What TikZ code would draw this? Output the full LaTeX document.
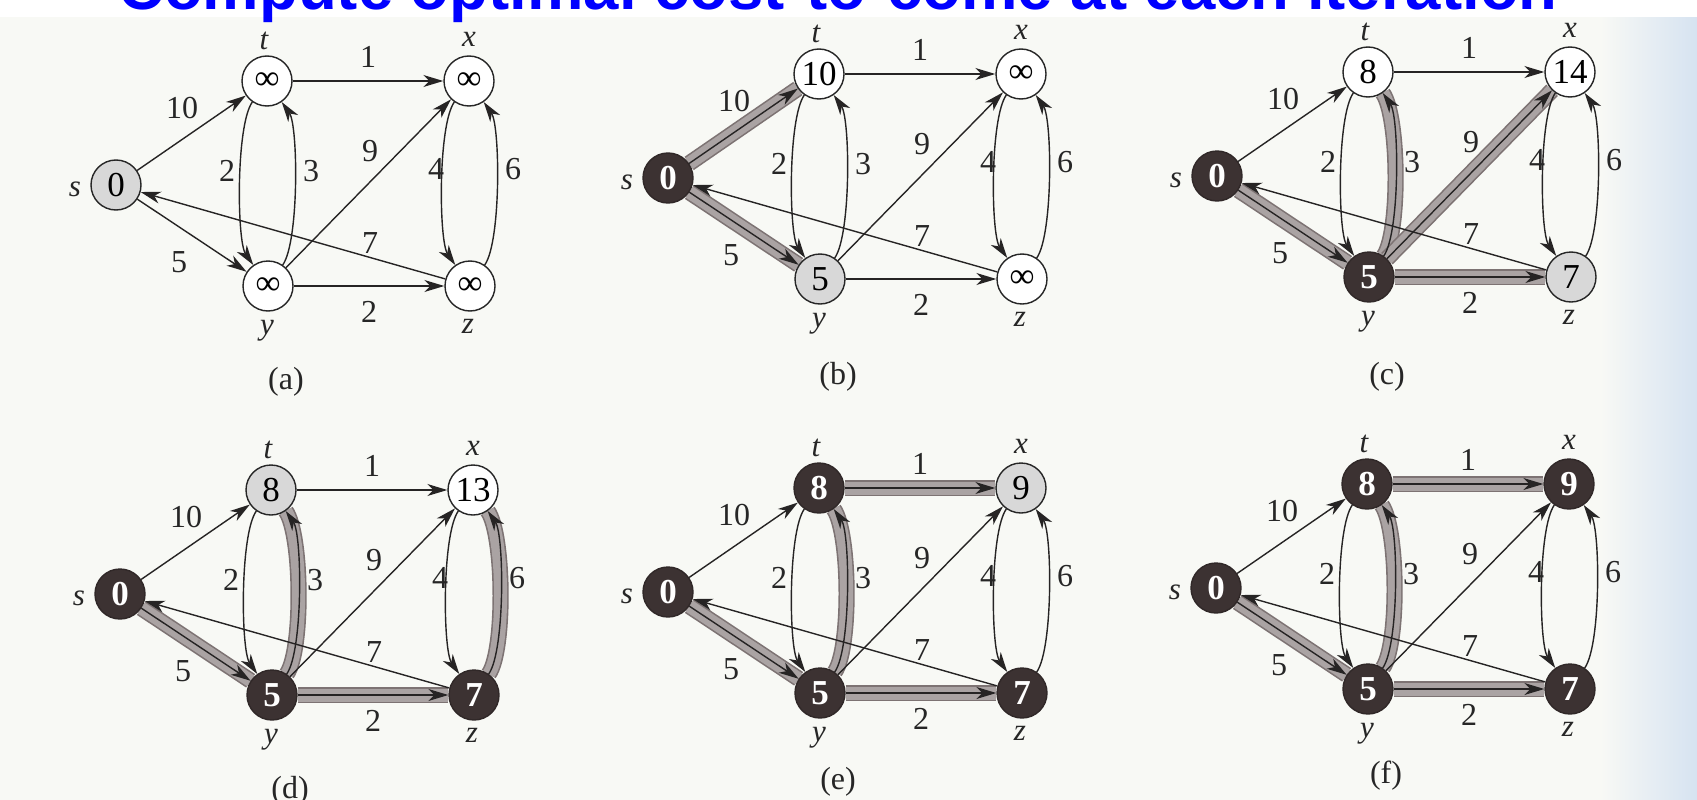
\documentclass[tikz,border=0pt]{standalone}
\usepackage{fontspec}
\setmainfont{Liberation Serif}
\newfontfamily\titlefont{Liberation Sans}
\usetikzlibrary{arrows.meta}
\definecolor{paper}{RGB}{248,249,245}
\definecolor{bluetint}{RGB}{214,227,241}
\definecolor{nodedark}{RGB}{60,50,50}
\definecolor{nodegray}{RGB}{216,216,216}
\definecolor{edgecol}{RGB}{38,36,36}
\definecolor{bandfill}{RGB}{170,163,163}
\definecolor{bandedge}{RGB}{125,115,115}
\definecolor{titleblue}{RGB}{0,0,255}
\pgfdeclarelayer{paperlayer}
\pgfdeclarelayer{bandlayer}
\pgfsetlayers{paperlayer,bandlayer,main}
\tikzset{
  vtx/.style={circle, draw=black!85, line width=1.4pt, minimum size=50pt, inner sep=0pt,
              font=\fontsize{35}{35}\selectfont},
  wnode/.style={vtx, fill=white},
  gnode/.style={vtx, fill=nodegray},
  dnode/.style={vtx, fill=nodedark, draw=nodedark!80!black, text=white,
                font=\fontsize{35}{35}\selectfont\bfseries},
  edge/.style={line width=1.4pt, draw=edgecol,
               -{Stealth[length=20pt,width=12pt,inset=6pt]}},
  band/.style={draw=bandedge, line width=1.6pt, double=bandfill, double distance=13pt},
  num/.style={font=\fontsize{32}{32}\selectfont, inner sep=0pt, text=black!85},
  lab/.style={font=\fontsize{31}{31}\selectfont\itshape, inner sep=0pt, text=black!85},
  cbend/.style={out=-125, in=125, looseness=0.45},
  dbend/.style={out=55, in=-55, looseness=0.45}
}
\newcommand\Panel[3]{%
  \node[Ss] (#1s) at (0,0) {\Sv};
  \node[St] (#1t) at (151,104) {\Tv};
  \node[Sx] (#1x) at (353,104) {\Xv};
  \node[Sy] (#1y) at (152,-101) {\Yv};
  \node[Sz] (#1z) at (354,-101) {\Zv};
  \node[lab] (#1Ls) at (-41,-4) {s};
  \node[lab] (#1Lt) at (148,144) {t};
  \node[lab] (#1Lx) at (353,146) {x};
  \node[lab] (#1Ly) at (151,-146) {y};
  \node[lab] (#1Lz) at (352,-141) {z};
  \draw[edge] (#1s) -- (#1t);
  \draw[edge] (#1s) -- (#1y);
  \draw[edge] (#1t) -- (#1x);
  \draw[edge] (#1t) to[cbend] (#1y);
  \draw[edge] (#1y) to[dbend] (#1t);
  \draw[edge] (#1y) -- (#1x);
  \draw[edge] (#1x) to[cbend] (#1z);
  \draw[edge] (#1z) to[dbend] (#1x);
  \draw[edge] (#1z) -- (#1s);
  \draw[edge] (#1y) -- (#1z);
  \node[num] (#1n10) at (66,77) {10};
  \node[num] (#1n1) at (252,128) {1};
  \node[num] (#1n2) at (111,14) {2};
  \node[num] (#1n3) at (195,14) {3};
  \node[num] (#1n9) at (254,34) {9};
  \node[num] (#1n4) at (320,16) {4};
  \node[num] (#1n6) at (397,16) {6};
  \node[num] (#1n7) at (254,-58) {7};
  \node[num] (#1n5) at (63,-77) {5};
  \node[num] (#1n2b) at (253,-127) {2};
  \node[num] (#1cap) at (170,#3) {(#2)};
}
\begin{document}
\begin{tikzpicture}[x=1pt,y=1pt]
\useasboundingbox (0,-800) rectangle (1697,0);
\begin{pgfonlayer}{paperlayer}
  \fill[paper] (0,-17) rectangle (1697,-800);
  \shade[left color=paper, right color=bluetint] (1600,-17) rectangle (1697,-800);
  \fill[white] (0,0) rectangle (1697,-17);
\end{pgfonlayer}

% (a)
\begin{scope}[shift={(116,-185)}, Ss/.style={gnode}, St/.style={wnode}, Sx/.style={wnode}, Sy/.style={wnode}, Sz/.style={wnode}]
  \def\Sv{0}\def\Tv{∞}\def\Xv{∞}\def\Yv{∞}\def\Zv{∞}
  \Panel{a}{a}{-197}
\end{scope}

% (b)
\begin{scope}[shift={(668,-178)}, Ss/.style={dnode}, St/.style={wnode}, Sx/.style={wnode}, Sy/.style={gnode}, Sz/.style={wnode}]
  \def\Sv{0}\def\Tv{10}\def\Xv{∞}\def\Yv{5}\def\Zv{∞}
  \Panel{b}{b}{-199}
  \begin{pgfonlayer}{bandlayer}
    \draw[band] (bs) -- (bt);
    \draw[band] (bs) -- (by);
  \end{pgfonlayer}
\end{scope}

% (c)
\begin{scope}[shift={(1217,-176)}, Ss/.style={dnode}, St/.style={wnode}, Sx/.style={wnode}, Sy/.style={dnode}, Sz/.style={gnode}]
  \def\Sv{0}\def\Tv{8}\def\Xv{14}\def\Yv{5}\def\Zv{7}
  \Panel{c}{c}{-201}
  \begin{pgfonlayer}{bandlayer}
    \draw[band] (cs) -- (cy);
    \draw[band] (cy) to[dbend] (ct);
    \draw[band] (cy) -- (cx);
    \draw[band] (cy) -- (cz);
  \end{pgfonlayer}
\end{scope}

% (d)
\begin{scope}[shift={(120,-594)}, Ss/.style={dnode}, St/.style={gnode}, Sx/.style={wnode}, Sy/.style={dnode}, Sz/.style={dnode}]
  \def\Sv{0}\def\Tv{8}\def\Xv{13}\def\Yv{5}\def\Zv{7}
  \Panel{d}{d}{-197}
  \begin{pgfonlayer}{bandlayer}
    \draw[band] (ds) -- (dy);
    \draw[band] (dy) to[dbend] (dt);
    \draw[band] (dz) to[dbend] (dx);
    \draw[band] (dy) -- (dz);
  \end{pgfonlayer}
\end{scope}

% (e)
\begin{scope}[shift={(668,-592)}, Ss/.style={dnode}, St/.style={dnode}, Sx/.style={gnode}, Sy/.style={dnode}, Sz/.style={dnode}]
  \def\Sv{0}\def\Tv{8}\def\Xv{9}\def\Yv{5}\def\Zv{7}
  \Panel{e}{e}{-190}
  \begin{pgfonlayer}{bandlayer}
    \draw[band] (es) -- (ey);
    \draw[band] (ey) to[dbend] (et);
    \draw[band] (et) -- (ex);
    \draw[band] (ey) -- (ez);
  \end{pgfonlayer}
\end{scope}

% (f)
\begin{scope}[shift={(1216,-588)}, Ss/.style={dnode}, St/.style={dnode}, Sx/.style={dnode}, Sy/.style={dnode}, Sz/.style={dnode}]
  \def\Sv{0}\def\Tv{8}\def\Xv{9}\def\Yv{5}\def\Zv{7}
  \Panel{f}{f}{-188}
  \begin{pgfonlayer}{bandlayer}
    \draw[band] (fs) -- (fy);
    \draw[band] (fy) to[dbend] (ft);
    \draw[band] (ft) -- (fx);
    \draw[band] (fy) -- (fz);
  \end{pgfonlayer}
\end{scope}

\node[anchor=base west, inner sep=0pt, text=titleblue,
      font=\titlefont\bfseries\fontsize{63.5}{63.5}\selectfont] (title) at (118,-10)
      {Compute optimal cost-to-come at each iteration};
\end{tikzpicture}
\end{document}
